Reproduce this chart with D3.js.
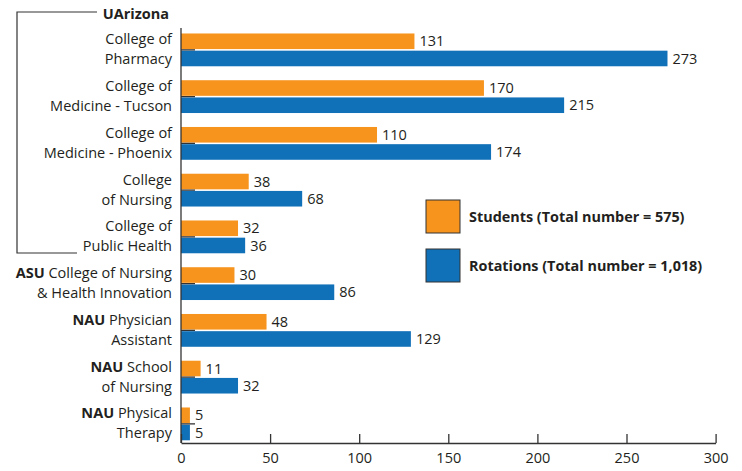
<!DOCTYPE html>
<html><head><meta charset="utf-8">
<script src="https://cdn.jsdelivr.net/npm/d3@7"></script>
<style>body{margin:0;background:#fff;} svg{display:block;} text{font-family:"Open Sans",sans-serif;fill:#231f20;}</style>
</head><body>
<svg id="c" width="742" height="471"></svg>
<script>
const categories = ["Pharmacy","Medicine Tucson","Medicine Phoenix","Nursing","Public Health","ASU Nursing","NAU PA","NAU Nursing","NAU PT"];
const labelLine1 = [["","College of"],["","College of"],["","College of"],["","College"],["","College of"],["ASU"," College of Nursing"],["NAU"," Physician"],["NAU"," School"],["NAU"," Physical"]];
const labelLine2 = ["Pharmacy","Medicine - Tucson","Medicine - Phoenix","of Nursing","Public Health","& Health Innovation","Assistant","of Nursing","Therapy"];
const students = [131,170,110,38,32,30,48,11,5];
const rotations = [273,215,174,68,36,86,129,32,5];
const xTicks = [0,50,100,150,200,250,300];
const seriesNames = ["Students (Total number = 575)","Rotations (Total number = 1,018)"];
const colors = ["#F7941D","#1070B8"];

const svg = d3.select("#c");
const x = d3.scaleLinear().domain([0,300]).range([181,715.6]);
const y = d3.scaleBand().domain(categories).range([26.5,447.25]).padding(0);
const bh = 15.6, gap = 0.8;
const axisY = 443;

const g = svg.append("g");
categories.forEach((c,i)=>{
  const cy = y(c)+y.bandwidth()/2;
  g.append("rect").attr("x",x(0)).attr("y",cy-gap-bh).attr("width",x(students[i])-x(0)).attr("height",bh).attr("fill",colors[0]);
  g.append("rect").attr("x",x(0)).attr("y",cy+gap).attr("width",x(rotations[i])-x(0)).attr("height",bh).attr("fill",colors[1]);
  g.append("text").attr("x",x(students[i])+5).attr("y",cy-gap-bh/2).attr("dy","0.35em").attr("font-size",14.5).text(students[i]);
  g.append("text").attr("x",x(rotations[i])+5).attr("y",cy+gap+bh/2).attr("dy","0.35em").attr("font-size",14.5).text(rotations[i]);
  g.append("line").attr("x1",x(0)).attr("x2",x(0)+14).attr("y1",cy).attr("y2",cy).attr("stroke","#333").attr("stroke-width",1.3);
  const t1 = g.append("text").attr("x",172).attr("y",cy-10.5).attr("dy","0.35em").attr("text-anchor","end").attr("font-size",14.5);
  if(labelLine1[i][0]) t1.append("tspan").attr("font-weight","bold").text(labelLine1[i][0]);
  t1.append("tspan").text(labelLine1[i][1]);
  g.append("text").attr("x",172).attr("y",cy+9.5).attr("dy","0.35em").attr("text-anchor","end").attr("font-size",14.5).text(labelLine2[i]);
});

svg.append("line").attr("x1",x(0)).attr("x2",x(0)).attr("y1",28).attr("y2",axisY).attr("stroke","#333").attr("stroke-width",1.3);

const xAxis = d3.axisBottom(x).tickValues(xTicks).tickSize(0).tickPadding(10);
const ax = svg.append("g").attr("transform",`translate(0,${axisY})`).call(xAxis);
ax.select(".domain").attr("stroke","#333").attr("stroke-width",1.3);
ax.selectAll(".tick text").attr("font-size",14.5).attr("font-family","Open Sans").attr("fill","#231f20");
ax.selectAll(".tick").append("line").attr("y1",0).attr("y2",-9).attr("stroke","#333").attr("stroke-width",1.3);

svg.append("path").attr("d","M97,12H17V253H77").attr("fill","none").attr("stroke","#333").attr("stroke-width",1.2);
svg.append("text").attr("x",169).attr("y",14).attr("dy","0.35em").attr("text-anchor","end").attr("font-size",14.5).attr("font-weight","bold").text("UArizona");

const leg = svg.append("g");
seriesNames.forEach((s,i)=>{
  const ly = 200 + i*49;
  leg.append("rect").attr("x",426).attr("y",ly).attr("width",34).attr("height",33).attr("fill",colors[i]).attr("stroke","#333").attr("stroke-width",1);
  leg.append("text").attr("x",469).attr("y",ly+17).attr("dy","0.35em").attr("font-size",14.4).attr("font-weight","bold").text(s);
});
</script>
</body></html>
